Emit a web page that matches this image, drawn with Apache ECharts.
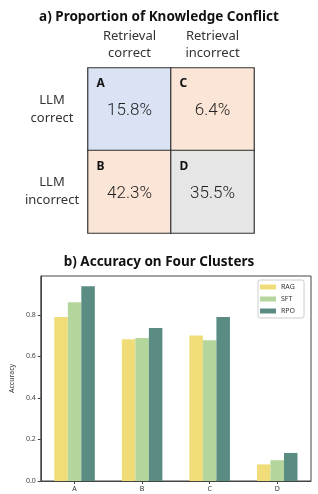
<!DOCTYPE html>
<html><head><meta charset="utf-8">
<script src="https://cdn.jsdelivr.net/npm/echarts@6/dist/echarts.min.js"></script>
<style>html,body{margin:0;padding:0;background:#fff}#c{width:318px;height:494px}</style>
</head><body><div id="c"></div>
<script>
// Panel a) data
const colHeaders = ['Retrieval\ncorrect', 'Retrieval\nincorrect'];
const rowHeaders = ['LLM\ncorrect', 'LLM\nincorrect'];
const cellLetters = ['A', 'C', 'B', 'D'];           // [row0col0,row0col1,row1col0,row1col1]
const cellValues = [15.8, 6.4, 42.3, 35.5];
const cellColors = ['#dae3f3', '#fbe5d6', '#fbe5d6', '#e7e6e6'];

// Panel b) data
const clusters = ['A', 'B', 'C', 'D'];
const ragAcc = [0.789, 0.683, 0.700, 0.080];
const sftAcc = [0.861, 0.688, 0.678, 0.100];
const rpoAcc = [0.938, 0.737, 0.789, 0.135];
const yTicks = [0, 0.2, 0.4, 0.6, 0.8];

const FONT = '"Noto Sans", "DejaVu Sans", sans-serif';
const heatData = [];
for (let r = 0; r < 2; r++) for (let c = 0; c < 2; c++) {
  const k = r * 2 + c;
  heatData.push({value: [c, r, cellValues[k]], letter: cellLetters[k],
    itemStyle: {color: cellColors[k]}});
}

const chart = echarts.init(document.getElementById('c'), null, {renderer: 'canvas'});
chart.setOption({
  animation: false,
  title: [
    {text: 'a) Proportion of Knowledge Conflict', left: 'center', top: 5,
     textStyle: {fontFamily: FONT, fontSize: 13.5, fontWeight: 'bold', color: '#111'}},
    {text: 'b) Accuracy on Four Clusters', left: 'center', top: 250,
     textStyle: {fontFamily: FONT, fontSize: 13.5, fontWeight: 'bold', color: '#111'}}
  ],
  grid: [
    {left: 88, top: 68, width: 166, height: 165},
    {left: 36, top: 276, width: 275, height: 205, show: true, borderColor: '#444', borderWidth: 1}
  ],
  xAxis: [
    {type: 'category', gridIndex: 0, position: 'top', data: colHeaders,
     axisLine: {show: false}, axisTick: {show: false}, splitLine: {show: false},
     axisLabel: {margin: 6, fontFamily: FONT, fontSize: 13, lineHeight: 17, color: '#333'}},
    {type: 'category', gridIndex: 1, data: clusters,
     axisLine: {show: true, lineStyle: {color: '#444'}},
     axisTick: {show: true, alignWithLabel: true, length: 3, lineStyle: {color: '#444'}},
     axisLabel: {margin: 4, fontFamily: FONT, fontSize: 7, color: '#333'}}
  ],
  yAxis: [
    {type: 'category', gridIndex: 0, inverse: true, data: rowHeaders,
     axisLine: {show: false}, axisTick: {show: false}, splitLine: {show: false},
     axisLabel: {margin: 36, align: 'center', fontFamily: FONT, fontSize: 13, lineHeight: 18, color: '#333'}},
    {type: 'value', gridIndex: 1, min: 0, max: 0.987,
     name: 'Accuracy', nameLocation: 'middle', nameGap: 24, nameRotate: 90,
     nameTextStyle: {fontFamily: FONT, fontSize: 7, color: '#333'},
     axisLine: {show: true, lineStyle: {color: '#444'}},
     axisTick: {show: true, length: 3, lineStyle: {color: '#444'}, customValues: yTicks},
     splitLine: {show: false},
     axisLabel: {margin: 5, fontFamily: FONT, fontSize: 7, color: '#444', customValues: yTicks,
       formatter: v => v.toFixed(1)}}
  ],
  legend: {
    data: ['RAG', 'SFT', 'RPO'], orient: 'vertical', left: 258, top: 280,
    itemWidth: 16, itemHeight: 5, itemGap: 4, padding: [3, 9, 3, 2],
    borderColor: '#ccc', borderWidth: 1, borderRadius: 2, backgroundColor: '#fff',
    textStyle: {fontFamily: FONT, fontSize: 7, color: '#333', lineHeight: 8},
    icon: 'rect'
  },
  series: [
    {type: 'heatmap', xAxisIndex: 0, yAxisIndex: 0, data: heatData,
     itemStyle: {borderColor: '#333', borderWidth: 1.2},
     label: {show: true, offset: [0, -12],
       formatter: p => '{l|' + p.data.letter + '}\n{v|' + p.data.value[2].toFixed(1) + '%}',
       rich: {
         l: {width: 66, align: 'left', lineHeight: 27, fontFamily: FONT, fontSize: 12, fontWeight: 'bold', color: '#111'},
         v: {width: 66, align: 'center', lineHeight: 27, fontFamily: '"Roboto", sans-serif', fontSize: 17, fontWeight: 300, color: '#222'}
       }},
     emphasis: {disabled: true}},
    {name: 'RAG', type: 'bar', xAxisIndex: 1, yAxisIndex: 1, data: ragAcc,
     itemStyle: {color: '#f1dc7a'}, barGap: '0%', barCategoryGap: '40%'},
    {name: 'SFT', type: 'bar', xAxisIndex: 1, yAxisIndex: 1, data: sftAcc,
     itemStyle: {color: '#b4d69c'}, barGap: '0%', barCategoryGap: '40%'},
    {name: 'RPO', type: 'bar', xAxisIndex: 1, yAxisIndex: 1, data: rpoAcc,
     itemStyle: {color: '#5a8c84'}, barGap: '0%', barCategoryGap: '40%'}
  ]
});
</script></body></html>
